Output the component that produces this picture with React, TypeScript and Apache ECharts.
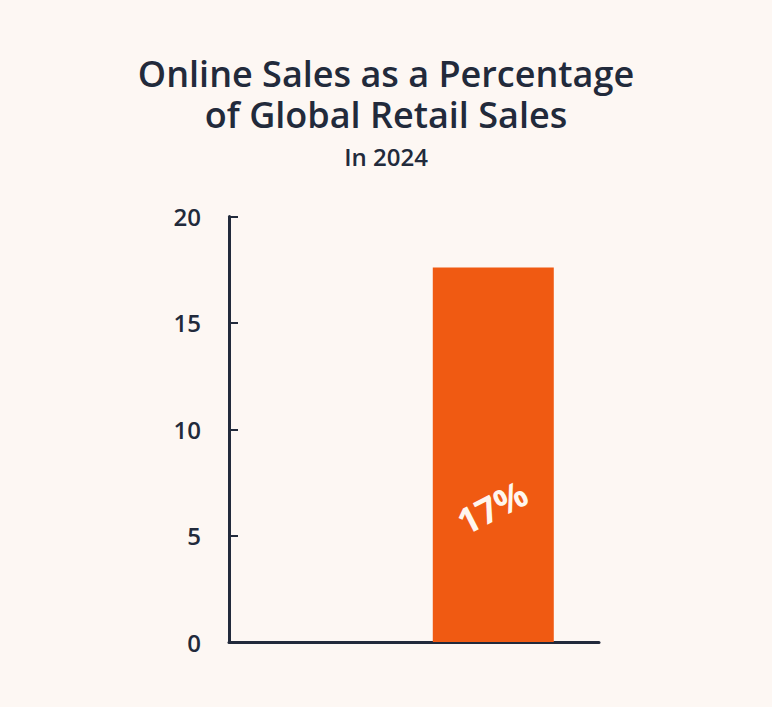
import React, { useEffect, useRef } from "react";
import * as echarts from "echarts";

const titleLines = ["Online Sales as a Percentage", "of Global Retail Sales"];
const subtitle = "In 2024";
const xPositions = [1];
const values = [17.6];
const valueLabels = ["17%"];
const yTicks = [0, 5, 10, 15, 20];

const DARK = "#222a3b";
const ORANGE = "#f05a12";
const BG = "#fdf7f3";

export default function App() {
  const ref = useRef<HTMLDivElement>(null);
  useEffect(() => {
    document.body.style.margin = "0";
    if (!ref.current) return;
    const chart = echarts.init(ref.current, null, { renderer: "svg" });
    const titleStyle = {
      fontFamily: "Open Sans",
      fontWeight: 600,
      fontSize: 36,
      lineHeight: 40,
      color: DARK,
    };
    chart.setOption({
      animation: false,
      backgroundColor: BG,
      title: [
        { text: titleLines[0], left: "center", top: 53, padding: 0, textStyle: titleStyle },
        { text: titleLines[1], left: "center", top: 94, padding: 0, textStyle: titleStyle },
        {
          text: subtitle,
          left: "center",
          top: 142,
          padding: 0,
          textStyle: {
            fontFamily: "Open Sans",
            fontWeight: 600,
            fontSize: 24,
            lineHeight: 28,
            color: DARK,
          },
        },
      ],
      grid: { left: 229, right: 173, top: 216.5, bottom: 65, containLabel: false },
      xAxis: {
        type: "value",
        min: 0,
        max: 1.4,
        axisLine: { show: true, lineStyle: { color: DARK, width: 3 } },
        axisTick: { show: false },
        axisLabel: { show: false },
        splitLine: { show: false },
      },
      yAxis: {
        type: "value",
        min: yTicks[0],
        max: yTicks[yTicks.length - 1],
        interval: 5,
        axisLine: { show: true, lineStyle: { color: DARK, width: 3 } },
        axisTick: { show: true, inside: true, length: 9, lineStyle: { color: DARK, width: 2 } },
        axisLabel: {
          margin: 28,
          fontFamily: "Open Sans",
          fontWeight: 600,
          fontSize: 24,
          color: DARK,
        },
        splitLine: { show: false },
      },
      series: [
        {
          type: "bar",
          barWidth: 121,
          data: xPositions.map((x, i) => [x, values[i]]),
          itemStyle: { color: ORANGE },
          label: {
            show: true,
            position: ["49%", "64%"],
            align: "center",
            verticalAlign: "middle",
            rotate: 27,
            formatter: (p: any) => valueLabels[p.dataIndex],
            fontFamily: "Open Sans",
            fontWeight: 700,
            fontSize: 36,
            color: "#fff6ee",
          },
        },
      ],
    });
    return () => chart.dispose();
  }, []);
  return <div ref={ref} style={{ width: 772, height: 707 }} />;
}
